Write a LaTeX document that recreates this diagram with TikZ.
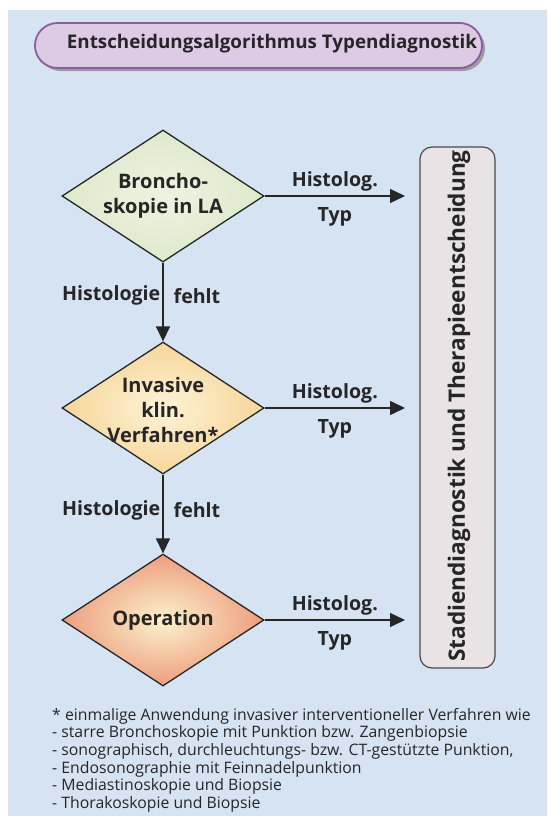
\documentclass[tikz,border=0pt]{standalone}
\usepackage{fontspec}
\setmainfont{Open Sans}
\usetikzlibrary{shapes.geometric,arrows.meta,shadows}
\definecolor{bgblue}{HTML}{D6E3F2}
\definecolor{inkc}{HTML}{262626}
\definecolor{pillfill}{HTML}{DDCBE5}
\definecolor{pilledge}{HTML}{8E5B9E}
\definecolor{boxfill}{HTML}{EAE3E6}
\definecolor{boxedge}{HTML}{4A4A4A}
\definecolor{greenout}{HTML}{DEE9CB}
\definecolor{greenin}{HTML}{EEF3E2}
\definecolor{yelout}{HTML}{F7D69A}
\definecolor{yelin}{HTML}{FDF3D6}
\definecolor{redout}{HTML}{EE9D7E}
\definecolor{redin}{HTML}{FBF2CC}
\begin{document}
\begin{tikzpicture}[x=1pt,y=-1pt,
  dia/.style={diamond, draw=inkc, line width=1.3pt, minimum width=202pt, minimum height=132pt, inner sep=0pt},
  dtext/.style={font=\fontsize{20}{25}\selectfont\bfseries, text=inkc, align=center},
  lab/.style={font=\fontsize{19.6}{22}\selectfont\bfseries, text=inkc},
  conn/.style={draw=inkc, line width=1.4pt, -{Triangle[length=15pt,width=14pt]}}
]
\useasboundingbox (0,0) rectangle (547,819);
\fill[bgblue] (8,10) rectangle (547,816);

% title
\node[draw=pilledge, line width=1.8pt, fill=pillfill, rounded corners=22.5pt,
      minimum width=447pt, minimum height=45pt,
      drop shadow={shadow xshift=3pt, shadow yshift=-3pt, opacity=0.45, fill=black!70}]
      (title) at (258.5,45.5) {};
\node[font=\fontsize{18.8}{22}\selectfont\bfseries, text=inkc] (titletext) at (272,44) {Entscheidungsalgorithmus Typendiagnostik};

% right box
\node[draw=boxedge, line width=1.2pt, fill=boxfill, rounded corners=12pt,
      minimum width=75pt, minimum height=521pt] (box) at (457.5,407.5) {};
\node[rotate=90, font=\fontsize{22.6}{24}\selectfont\bfseries, text=inkc] (boxtext) at (459,406) {Stadiendiagnostik und Therapieentscheidung};

% diamonds
\node[dia, inner color=greenin, outer color=greenout] (d1) at (163,196) {};
\node[dtext] (t1) at (163,196) {Broncho-\\skopie in LA};
\node[dia, inner color=yelin, outer color=yelout] (d2) at (163,408) {};
\node[dtext] (t2) at (163,410) {Invasive\\klin.\\Verfahren*};
\node[dia, inner color=redin, outer color=redout] (d3) at (163,620) {};
\node[dtext] (t3) at (163,620) {Operation};

% arrow ends
\coordinate (e1) at (405,196);
\coordinate (e2) at (405,408);
\coordinate (e3) at (405,620);

\draw[conn] (d1.east) -- node[lab, above=1pt] {Histolog.} node[lab, below=7pt] {Typ} (e1);
\draw[conn] (d2.east) -- node[lab, above=1pt] {Histolog.} node[lab, below=7pt] {Typ} (e2);
\draw[conn] (d3.east) -- node[lab, above=1pt] {Histolog.} node[lab, below=7pt] {Typ} (e3);

\draw[conn] (d1.south) -- node[lab, pos=0.42, left, inner sep=2pt] {Histologie} node[lab, pos=0.42, right, xshift=8pt, inner sep=2pt] {fehlt} (d2.north);
\draw[conn] (d2.south) -- node[lab, pos=0.45, left, inner sep=2pt] {Histologie} node[lab, pos=0.45, right, xshift=8pt, inner sep=2pt] {fehlt} (d3.north);

% footnote
\node[anchor=north west, inner sep=0pt, align=left, text=inkc, font=\fontsize{15.8}{17.6}\selectfont] (foot) at (52,708) {%
* einmalige Anwendung invasiver interventioneller Verfahren wie\\
- starre Bronchoskopie mit Punktion bzw. Zangenbiopsie\\
- sonographisch, durchleuchtungs- bzw. CT-gestützte Punktion,\\
- Endosonographie mit Feinnadelpunktion\\
- Mediastinoskopie und Biopsie\\
- Thorakoskopie und Biopsie};
\end{tikzpicture}
\end{document}
